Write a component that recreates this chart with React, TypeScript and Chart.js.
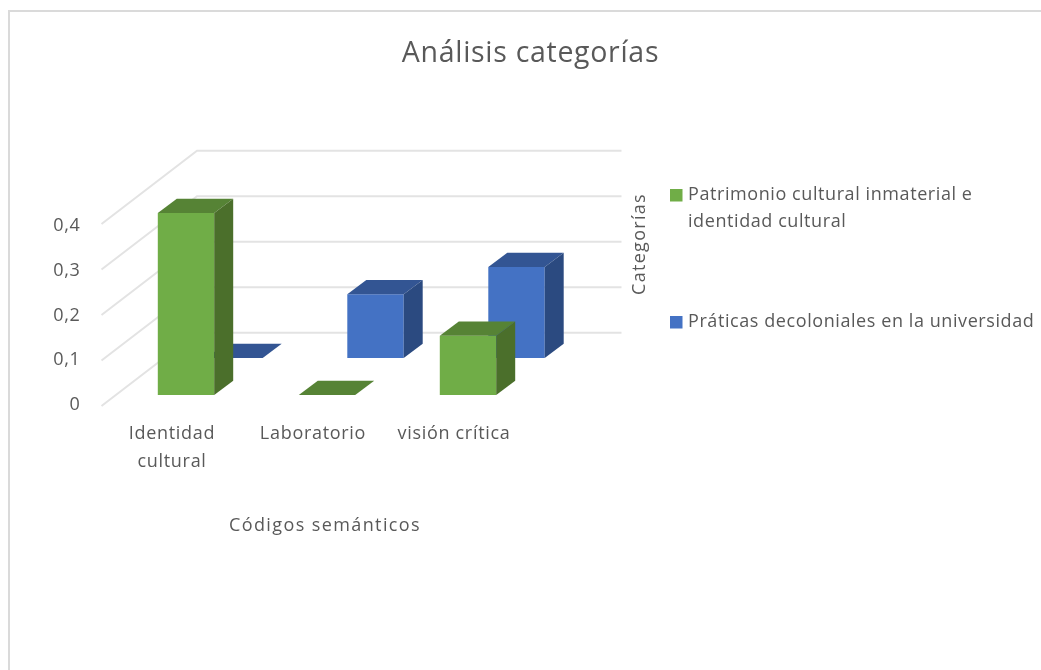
import React, { useEffect, useRef } from "react";
import { Chart, registerables } from "chart.js";

Chart.register(...registerables);

const categories = [["Identidad", "cultural"], "Laboratorio", "visión crítica"];
const seriesPatrimonio = [0.4, 0, 0.13];
const seriesPracticas = [0, 0.14, 0.2];
const namePatrimonio = "Patrimonio cultural inmaterial e identidad cultural";
const namePracticas = "Práticas decoloniales en la universidad";
const legendPatrimonio = ["Patrimonio cultural inmaterial e", "identidad cultural"];
const legendPracticas = ["Práticas decoloniales en la universidad"];
const wallValues = [0, 0.1, 0.2, 0.3, 0.4];

const FONT = '"Open Sans", sans-serif';
const TEXT = "#595959";

const faces: Record<string, { dx: number; dy: number; top: string; side: string }> = {
  front: { dx: 14, dy: -10, top: "#568335", side: "#4B6F2B" },
  back: { dx: 62.5, dy: -47, top: "#335593", side: "#2B4A80" },
};
const depth = { dx: 19, dy: 14.3 };

const threeD = {
  id: "threeD",
  beforeDraw(chart: any) {
    chart.ctx.letterSpacing = "0.7px";
  },
  beforeDatasetsDraw(chart: any) {
    const { ctx, chartArea } = chart;
    const yb = chart.scales.yb;
    ctx.save();
    ctx.strokeStyle = "#E3E3E3";
    ctx.lineWidth = 2;
    for (const v of wallValues) {
      const py = yb.getPixelForValue(v);
      ctx.beginPath();
      ctx.moveTo(chartArea.left, py + 1);
      ctx.lineTo(197, py - 72.3);
      ctx.lineTo(621.5, py - 72.3);
      ctx.stroke();
    }
    ctx.restore();
  },
  beforeDatasetDraw(chart: any, args: any) {
    const f = faces[chart.data.datasets[args.index].row];
    chart.ctx.save();
    chart.ctx.translate(f.dx, f.dy);
  },
  afterDatasetDraw(chart: any, args: any) {
    const { ctx } = chart;
    const f = faces[chart.data.datasets[args.index].row];
    for (const bar of args.meta.data) {
      const l = bar.x - bar.width / 2;
      const r = bar.x + bar.width / 2;
      ctx.fillStyle = f.top;
      ctx.beginPath();
      ctx.moveTo(l, bar.y);
      ctx.lineTo(l + depth.dx, bar.y - depth.dy);
      ctx.lineTo(r + depth.dx, bar.y - depth.dy);
      ctx.lineTo(r, bar.y);
      ctx.closePath();
      ctx.fill();
      if (bar.base - bar.y > 0.5) {
        ctx.fillStyle = f.side;
        ctx.beginPath();
        ctx.moveTo(r, bar.y);
        ctx.lineTo(r + depth.dx, bar.y - depth.dy);
        ctx.lineTo(r + depth.dx, bar.base - depth.dy);
        ctx.lineTo(r, bar.base);
        ctx.closePath();
        ctx.fill();
      }
    }
    ctx.restore();
  },
  afterDraw(chart: any) {
    const { ctx, data } = chart;
    ctx.save();
    ctx.fillStyle = "#DADADA";
    ctx.fillRect(8, 10, 1033, 2);
    ctx.fillRect(8, 10, 2, 660);
    ctx.fillStyle = TEXT;
    ctx.font = `18px ${FONT}`;
    ctx.textBaseline = "middle";
    ctx.textAlign = "center";
    ctx.letterSpacing = "1.4px";
    ctx.fillText("Códigos semánticos", 325, 526);
    ctx.save();
    ctx.translate(640, 244);
    ctx.rotate(-Math.PI / 2);
    ctx.letterSpacing = "1.3px";
    ctx.fillText("Categorías", 0, 0);
    ctx.restore();
    ctx.textAlign = "left";
    ctx.letterSpacing = "0.58px";
    const entries = [
      { lines: legendPatrimonio, color: data.datasets[0].backgroundColor, y: 195 },
      { lines: legendPracticas, color: data.datasets[1].backgroundColor, y: 322 },
    ];
    for (const e of entries) {
      ctx.fillStyle = e.color;
      ctx.fillRect(670, e.y - 6, 12.5, 12.5);
      ctx.fillStyle = TEXT;
      e.lines.forEach((t: string, i: number) => ctx.fillText(t, 688, e.y + i * 27));
    }
    ctx.restore();
  },
};

export default function App() {
  const ref = useRef<HTMLCanvasElement>(null);
  useEffect(() => {
    const chart = new Chart(ref.current as HTMLCanvasElement, {
      type: "bar",
      data: {
        labels: categories as any,
        datasets: [
          {
            label: namePatrimonio,
            data: seriesPatrimonio,
            backgroundColor: "#70AD47",
            yAxisID: "yb",
            row: "front",
            clip: false,
          } as any,
          {
            label: namePracticas,
            data: seriesPracticas,
            backgroundColor: "#4472C4",
            yAxisID: "yb",
            row: "back",
            clip: false,
          } as any,
        ],
      },
      options: {
        animation: false,
        responsive: false,
        layout: { padding: { left: 20, right: 0, top: 0, bottom: 0 } },
        datasets: { bar: { grouped: false, categoryPercentage: 1, barPercentage: 0.4 } },
        plugins: {
          legend: { display: false },
          tooltip: { enabled: false },
          title: {
            display: true,
            text: "Análisis categorías",
            color: TEXT,
            font: { family: FONT, size: 28.5, weight: "normal", lineHeight: 1.2 },
            padding: { top: 37, bottom: 154.8 },
          },
        },
        scales: {
          x: {
            grid: { display: false, drawTicks: false },
            border: { display: false },
            afterFit: (s: any) => { s.height = 265; },
            ticks: {
              color: TEXT,
              padding: 14,
              autoSkip: false,
              maxRotation: 0,
              font: { family: FONT, size: 18, lineHeight: 1.6 },
            },
          },
          y: {
            position: "left",
            min: 0,
            max: 0.4,
            grid: { display: false, drawTicks: false },
            border: { display: false },
            afterFit: (s: any) => { s.width = 81.5; },
            ticks: {
              color: TEXT,
              padding: 21,
              stepSize: 0.1,
              font: { family: FONT, size: 18 },
              callback: (v: any) => Number(v).toFixed(v === 0 ? 0 : 1).replace(".", ","),
            },
          },
          yb: {
            position: "right",
            min: 0,
            max: 0.3934,
            grid: { display: false, drawTicks: false },
            border: { display: false },
            ticks: { display: false },
            afterFit: (s: any) => { s.width = 516.5; },
          },
        },
      } as any,
      plugins: [threeD],
    });
    return () => chart.destroy();
  }, []);
  return (
    <div style={{ position: "absolute", left: 0, top: 0, width: 1041, height: 670, overflow: "hidden" }}>
      <canvas ref={ref} width={1041} height={670} style={{ display: "block" }} />
    </div>
  );
}
